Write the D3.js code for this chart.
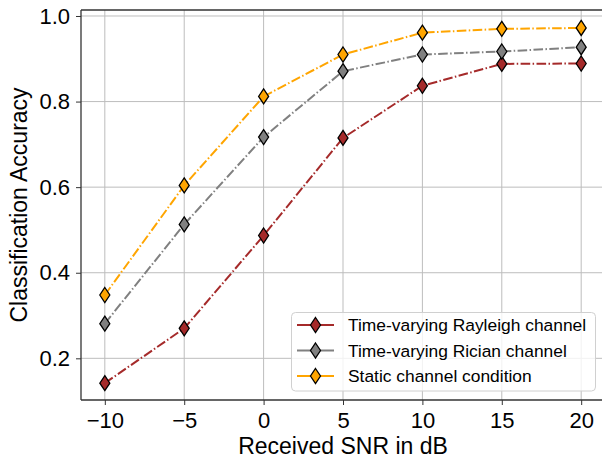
<!DOCTYPE html>
<html lang="en">
<head>
    <meta charset="UTF-8">
    <title>Classification Accuracy vs SNR</title>
    <script src="https://cdn.jsdelivr.net/npm/d3@7"></script>
    <style>
        body { margin: 0; background: #fff; }
        svg { display: block; font-family: "Liberation Sans", Arial, sans-serif; }
    </style>
</head>
<body>
    <svg id="chart" width="602" height="463"></svg>

    <script>
        // SNR values (dB) on the x axis
        const snr = [-10, -5, 0, 5, 10, 15, 20];
        const rayleigh = [0.142, 0.270, 0.487, 0.715, 0.837, 0.888, 0.889];
        const rician = [0.281, 0.513, 0.717, 0.871, 0.910, 0.917, 0.927];
        const staticCh = [0.348, 0.604, 0.812, 0.910, 0.961, 0.970, 0.972];
        const xTicks = [-10, -5, 0, 5, 10, 15, 20];
        const yTicks = [0.2, 0.4, 0.6, 0.8, 1.0];

        const series = [
            { name: 'Time-varying Rayleigh channel', values: rayleigh, color: '#a52a2a' },
            { name: 'Time-varying Rician channel', values: rician, color: '#808080' },
            { name: 'Static channel condition', values: staticCh, color: '#ffa500' }
        ];

        const svg = d3.select('#chart');
        const m = { left: 81, right: 605, top: 10, bottom: 400 };

        const x = d3.scaleLinear().domain([-11.5, 21.5]).range([m.left, m.right]);
        const y = d3.scaleLinear().domain([0.1026, 1.014]).range([m.bottom, m.top]);

        // grid
        const grid = svg.append('g');
        xTicks.forEach(t => {
            grid.append('line')
                .attr('x1', x(t)).attr('x2', x(t))
                .attr('y1', m.top).attr('y2', m.bottom)
                .attr('stroke', '#bdbdbd').attr('stroke-width', 1);
        });
        yTicks.forEach(t => {
            grid.append('line')
                .attr('x1', m.left).attr('x2', m.right)
                .attr('y1', y(t)).attr('y2', y(t))
                .attr('stroke', '#bdbdbd').attr('stroke-width', 1);
        });

        // axes
        const xAxis = svg.append('g')
            .attr('transform', `translate(0,${m.bottom})`)
            .call(d3.axisBottom(x).tickValues(xTicks).tickSize(5).tickPadding(7)
                .tickFormat(d => d < 0 ? '\u2212' + Math.abs(d) : d));
        const yAxis = svg.append('g')
            .attr('transform', `translate(${m.left},0)`)
            .call(d3.axisLeft(y).tickValues(yTicks).tickSize(5).tickPadding(6)
                .tickFormat(d3.format('.1f')));

        [xAxis, yAxis].forEach(a => {
            a.select('.domain').remove();
            a.selectAll('.tick line').attr('stroke', '#333').attr('stroke-width', 1);
            a.selectAll('.tick text')
                .attr('fill', '#000')
                .style('font-size', '22px')
                .style('font-family', '"Liberation Sans", Arial, sans-serif');
        });

        // spines
        svg.append('line').attr('x1', m.left).attr('x2', m.left).attr('y1', m.top).attr('y2', m.bottom)
            .attr('stroke', '#333').attr('stroke-width', 1.3);
        svg.append('line').attr('x1', m.left).attr('x2', m.right).attr('y1', m.bottom).attr('y2', m.bottom)
            .attr('stroke', '#333').attr('stroke-width', 1.3);
        svg.append('line').attr('x1', m.left).attr('x2', m.right).attr('y1', m.top).attr('y2', m.top)
            .attr('stroke', '#333').attr('stroke-width', 1.3);

        // axis labels
        svg.append('text')
            .attr('x', 343).attr('y', 454)
            .attr('text-anchor', 'middle')
            .style('font-size', '23px')
            .text('Received SNR in dB');
        svg.append('text')
            .attr('transform', `translate(27,${(m.top + m.bottom) / 2}) rotate(-90)`)
            .attr('text-anchor', 'middle')
            .style('font-size', '23px')
            .text('Classification Accuracy');

        const diamond = 'M0,-7.5 L5,0 L0,7.5 L-5,0 Z';

        const line = d3.line()
            .x((d, i) => x(snr[i]))
            .y(d => y(d));

        series.forEach(s => {
            const g = svg.append('g');
            g.append('path')
                .attr('d', line(s.values))
                .attr('fill', 'none')
                .attr('stroke', s.color)
                .attr('stroke-width', 2)
                .attr('stroke-dasharray', '9.6,2.4,1.5,2.4');
            g.selectAll('path.mk')
                .data(s.values)
                .enter().append('path')
                .attr('class', 'mk')
                .attr('d', diamond)
                .attr('transform', (d, i) => `translate(${x(snr[i])},${y(d)})`)
                .attr('fill', s.color)
                .attr('stroke', '#000')
                .attr('stroke-width', 1.3);
        });

        // legend
        const lg = svg.append('g');
        lg.append('rect')
            .attr('x', 291.5).attr('y', 312.5)
            .attr('width', 304).attr('height', 78.5)
            .attr('rx', 4)
            .attr('fill', 'rgba(255,255,255,0.8)')
            .attr('stroke', '#d0d0d0').attr('stroke-width', 1);
        series.forEach((s, i) => {
            const cy = 325 + i * 25.5;
            lg.append('line')
                .attr('x1', 297).attr('x2', 334)
                .attr('y1', cy).attr('y2', cy)
                .attr('stroke', s.color).attr('stroke-width', 2);
            lg.append('path')
                .attr('d', diamond)
                .attr('transform', `translate(315.5,${cy})`)
                .attr('fill', s.color)
                .attr('stroke', '#000').attr('stroke-width', 1.3);
            lg.append('text')
                .attr('x', 348).attr('y', cy + 6.2)
                .style('font-size', '17.4px')
                .text(s.name);
        });
    </script>
</body>
</html>
